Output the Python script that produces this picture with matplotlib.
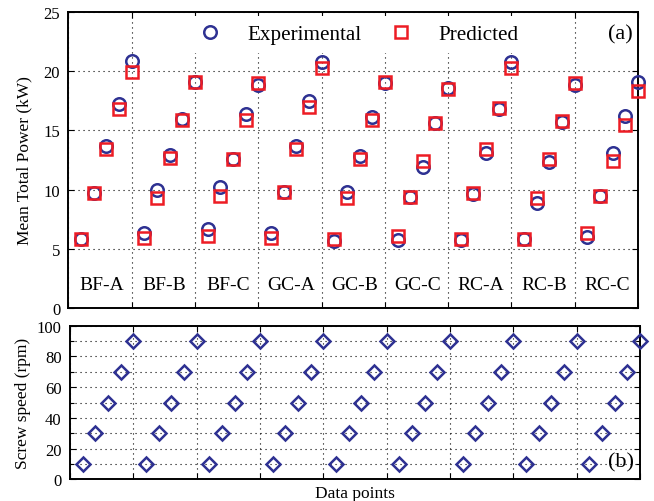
"""
Mean total power (experimental vs predicted) and screw speed per data point
"""

import numpy as np
import matplotlib
matplotlib.use('Agg')
import matplotlib.pyplot as plt
from matplotlib.ticker import MultipleLocator

plt.rcParams['font.family'] = ['Liberation Serif', 'DejaVu Serif']
plt.rcParams['mathtext.fontset'] = 'stix'

groups = ['BF-A', 'BF-B', 'BF-C', 'GC-A', 'GC-B', 'GC-C', 'RC-A', 'RC-B', 'RC-C']

experimental = [5.85, 9.75, 13.65, 17.2, 20.85,
                6.35, 9.95, 12.95, 16.0, 19.05,
                6.7, 10.2, 12.6, 16.4, 18.8,
                6.3, 9.8, 13.65, 17.45, 20.75,
                5.7, 9.8, 12.8, 16.1, 19.0,
                5.75, 9.4, 11.9, 15.65, 18.55,
                5.75, 9.6, 13.1, 16.85, 20.75,
                5.8, 8.85, 12.3, 15.7, 18.85,
                6.0, 9.5, 13.1, 16.25, 19.05]

predicted = [5.8, 9.75, 13.4, 16.85, 19.95,
             5.9, 9.25, 12.7, 15.9, 19.05,
             6.1, 9.45, 12.55, 15.85, 19.0,
             5.9, 9.8, 13.45, 16.95, 20.3,
             5.8, 9.25, 12.6, 15.85, 19.05,
             6.1, 9.4, 12.45, 15.6, 18.5,
             5.85, 9.75, 13.4, 16.9, 20.3,
             5.85, 9.25, 12.6, 15.8, 19.0,
             6.3, 9.45, 12.45, 15.45, 18.35]

speed_levels = [10, 30, 50, 70, 90]   # rpm, same sequence in every group

blue = '#2e3192'
red = '#ed1c24'


def style_axis(ax):
    """Box, inward ticks on all sides and dotted grid"""

    ax.tick_params(direction='in', which='both', top=True, right=True,
                   labelsize=12, length=4, width=0.8, pad=6)
    ax.tick_params(which='minor', length=3)
    for spine in ax.spines.values():
        spine.set_linewidth(1.4)
    ax.grid(True, which='both', linestyle=(0, (1, 3.5)), color='k', linewidth=0.8)
    ax.set_axisbelow(True)


n = len(experimental)
xpos = np.arange(1, n + 1)
speeds = np.tile(speed_levels, len(groups))

fig = plt.figure(figsize=[6.54, 5.02], dpi=100)
ax1 = fig.add_axes([0.1047, 0.3845, 0.8708, 0.5895])
ax2 = fig.add_axes([0.1070, 0.0432, 0.8716, 0.3060])

# (a) power
ax1.plot(xpos, experimental, linestyle='none', marker='o', markersize=9,
         markerfacecolor='none', markeredgecolor=blue, markeredgewidth=1.8,
         clip_on=False, label='Experimental', zorder=3)
ax1.plot(xpos, predicted, linestyle='none', marker='s', markersize=9,
         markerfacecolor='none', markeredgecolor=red, markeredgewidth=1.8,
         clip_on=False, label='Predicted', zorder=4)
ax1.set_xlim(0, n)
ax1.set_ylim(0, 25)
ax1.xaxis.set_major_locator(MultipleLocator(5))
ax1.yaxis.set_major_locator(MultipleLocator(5))
ax1.set_xticklabels([])
style_axis(ax1)
ax1.set_ylabel('Mean Total Power (kW)', fontsize=12.5, labelpad=8)
for i, g in enumerate(groups):
    ax1.text(5 * i + 2.6, 2.0, g, ha='center', va='center', fontsize=14)
ax1.text(0.99, 0.925, '(a)', transform=ax1.transAxes, ha='right', va='center',
         fontsize=16)
leg = ax1.legend(loc='upper center', bbox_to_anchor=(0.501, 1.0), ncol=2,
                 fontsize=15.2, frameon=True, fancybox=False, edgecolor='none',
                 facecolor='white', framealpha=1, handletextpad=0.76,
                 columnspacing=0.86, borderaxespad=0.2)

# (b) screw speed
ax2.plot(xpos, speeds, linestyle='none', marker='D', markersize=7,
         markerfacecolor='none', markeredgecolor=blue, markeredgewidth=1.8,
         clip_on=False, zorder=3)
ax2.set_xlim(0, n)
ax2.set_ylim(0, 100)
ax2.xaxis.set_major_locator(MultipleLocator(5))
ax2.yaxis.set_major_locator(MultipleLocator(20))
ax2.yaxis.set_minor_locator(MultipleLocator(10))
ax2.set_xticklabels([])
style_axis(ax2)
ax2.set_ylabel('Screw speed (rpm)', fontsize=12.5, labelpad=4)
ax2.set_xlabel('Data points', fontsize=12.5, labelpad=-2)
ax2.text(0.99, 0.113, '(b)', transform=ax2.transAxes, ha='right', va='center',
         fontsize=16)

plt.savefig('out.png', dpi=100)
